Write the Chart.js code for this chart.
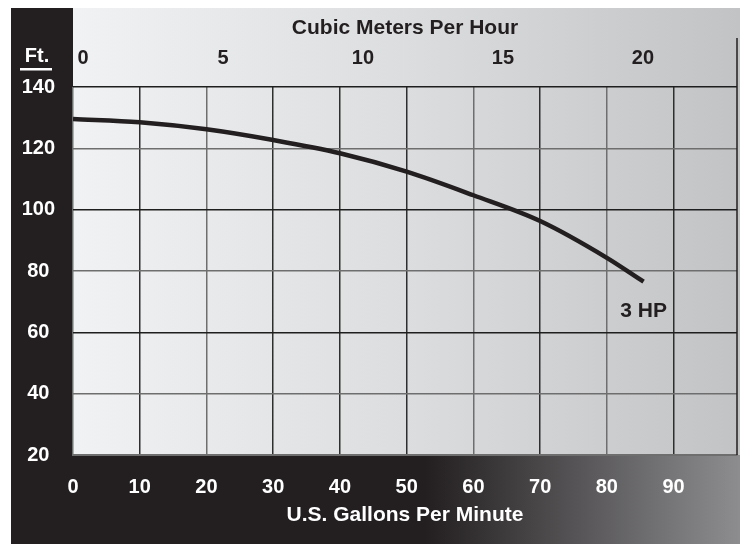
<!DOCTYPE html>
<html>
<head>
<meta charset="utf-8">
<script src="https://cdn.jsdelivr.net/npm/chart.js@4"></script>
<style>
  html, body { margin: 0; padding: 0; background: #fff; }
  #wrap { width: 740px; height: 544px; }
</style>
</head>
<body>
<div id="wrap"><canvas id="pumpChart" width="740" height="544"></canvas></div>
<script>
// data
const gpm = [0, 10, 20, 30, 40, 50, 60, 70, 80, 85.5];
const feet = [129.6, 128.5, 126.2, 122.7, 118.4, 112.4, 104.7, 96.3, 84.3, 76.5];

const gpmTicks = [0, 10, 20, 30, 40, 50, 60, 70, 80, 90];
const cmhTicks = [0, 5, 10, 15, 20];
const ftTicks = [20, 40, 60, 80, 100, 120, 140];

const curveLabel = '3 HP';
const curveLabelAt = { gpm: 85.5, ft: 67 };

const INK = '#231f20';
const FONT = '"Liberation Sans", Arial, Helvetica, sans-serif';

// fonds : bande noire, degradé gris, bas noir -> gris
const backdrop = {
  id: 'backdrop',
  beforeDraw(chart) {
    const c = chart.ctx, a = chart.chartArea;
    const W = chart.width, H = chart.height;
    c.save();
    c.fillStyle = '#fff';
    c.fillRect(0, 0, W, H);
    c.fillStyle = INK;
    c.fillRect(11, 8, W - 11, H - 8);

    const g = c.createLinearGradient(a.left, 0, W, 0);
    g.addColorStop(0, '#f1f2f3');
    g.addColorStop(0.5, '#dcdddf');
    g.addColorStop(1, '#c2c3c5');
    c.fillStyle = g;
    c.fillRect(a.left, 8, W - a.left, a.bottom - 8);

    const gb = c.createLinearGradient(425, 0, W, 0);
    gb.addColorStop(0, INK);
    gb.addColorStop(1, '#8d8d90');
    c.fillStyle = gb;
    c.fillRect(425, a.bottom, W - 425, H - a.bottom);
    c.restore();
  },
  afterDraw(chart) {
    const c = chart.ctx, a = chart.chartArea;
    const x = chart.scales.x, y = chart.scales.y;
    c.save();
    // bord droit
    c.strokeStyle = INK;
    c.lineWidth = 1.5;
    c.beginPath();
    c.moveTo(a.right, 38);
    c.lineTo(a.right, a.bottom);
    c.stroke();

    // Ft. souligné
    c.fillStyle = '#fff';
    c.font = 'bold 20px ' + FONT;
    c.textAlign = 'center';
    c.textBaseline = 'middle';
    c.fillText('Ft.', 37, 56);
    c.fillRect(20, 68, 32, 2.5);

    // étiquette de la courbe
    c.fillStyle = INK;
    c.font = 'bold 21px ' + FONT;
    c.fillText(curveLabel, x.getPixelForValue(curveLabelAt.gpm), y.getPixelForValue(curveLabelAt.ft));
    c.restore();
  }
};

const darkV = [10, 30, 40, 50, 70, 90];
const darkH = [140, 100, 60];

new Chart(document.getElementById('pumpChart'), {
  type: 'line',
  data: {
    datasets: [{
      data: gpm.map((v, i) => ({ x: v, y: feet[i] })),
      borderColor: INK,
      borderWidth: 4.5,
      pointRadius: 0,
      fill: false,
      cubicInterpolationMode: 'monotone',
      borderCapStyle: 'butt'
    }]
  },
  options: {
    responsive: false,
    animation: false,
    layout: { padding: { left: 11, top: 8, right: 3, bottom: 0 } },
    plugins: { legend: { display: false }, tooltip: { enabled: false } },
    scales: {
      x: {
        type: 'linear',
        position: 'bottom',
        min: 0,
        max: 99.5,
        afterBuildTicks: s => { s.ticks = gpmTicks.map(v => ({ value: v })); },
        afterFit: s => { s.height = 89; },
        grid: {
          drawTicks: false,
          lineWidth: 1.5,
          color: ctx => darkV.includes(ctx.tick && ctx.tick.value) ? '#2e2e2e' : '#6e6e6e'
        },
        border: { display: true, color: '#6e6e6e', width: 2 },
        ticks: {
          color: '#fff',
          padding: 20,
          maxRotation: 0,
          font: { family: FONT, size: 20, weight: 'bold' }
        },
        title: {
          display: true,
          text: 'U.S. Gallons Per Minute',
          color: '#fff',
          padding: { top: 0, bottom: 16 },
          font: { family: FONT, size: 21, weight: 'bold' }
        }
      },
      x2: {
        type: 'linear',
        position: 'top',
        min: -0.357,
        max: 23.36,
        afterBuildTicks: s => { s.ticks = cmhTicks.map(v => ({ value: v })); },
        afterFit: s => { s.height = 79; },
        grid: { display: false, drawTicks: false },
        border: { display: false },
        ticks: {
          color: INK,
          padding: 17,
          maxRotation: 0,
          font: { family: FONT, size: 20, weight: 'bold' }
        },
        title: {
          display: true,
          text: 'Cubic Meters Per Hour',
          color: INK,
          padding: { top: 8, bottom: 0 },
          font: { family: FONT, size: 21, weight: 'bold' }
        }
      },
      y: {
        min: 20,
        max: 140,
        afterBuildTicks: s => { s.ticks = ftTicks.map(v => ({ value: v })); },
        afterFit: s => { s.width = 62; },
        grid: {
          drawTicks: false,
          lineWidth: 1.5,
          color: ctx => darkH.includes(ctx.tick && ctx.tick.value) ? '#1e1e1e' : '#6e6e6e'
        },
        border: { display: false },
        ticks: {
          color: '#fff',
          padding: 18,
          crossAlign: 'center',
          font: { family: FONT, size: 20, weight: 'bold' }
        }
      }
    }
  },
  plugins: [backdrop]
});
</script>
</body>
</html>
